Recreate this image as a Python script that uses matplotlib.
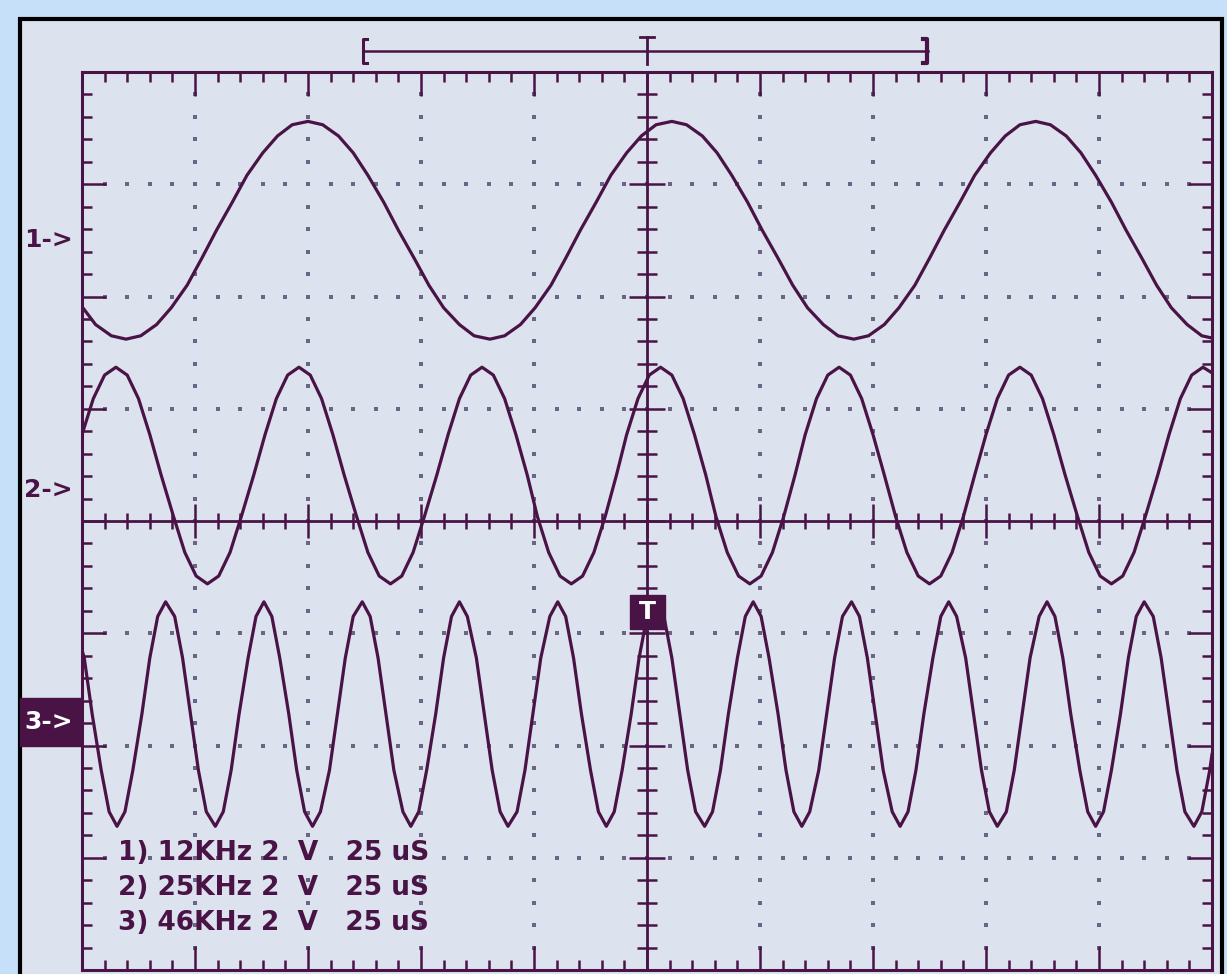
import numpy as np
import matplotlib
matplotlib.use("Agg")
import matplotlib.pyplot as plt
from matplotlib.patches import Rectangle
from matplotlib.ticker import MultipleLocator

# === Datos leidos de la pantalla (en divisiones) ===
# canal 1 (12 kHz)
t1_x = [0.00, 0.12, 0.26,
        0.39, 0.52, 0.66, 0.79, 0.93, 1.06, 1.19, 1.33, 1.46, 1.60, 1.73, 1.86,
        2.00, 2.13, 2.27, 2.40, 2.53, 2.67, 2.80, 2.94, 3.07, 3.20, 3.34, 3.47,
        3.61, 3.74, 3.88, 4.01, 4.15, 4.28, 4.41, 4.55, 4.68, 4.82, 4.95, 5.08,
        5.22, 5.35, 5.49, 5.62, 5.75, 5.89, 6.02, 6.16, 6.29, 6.42, 6.56, 6.69,
        6.83, 6.96, 7.10, 7.23, 7.37, 7.50, 7.63, 7.77, 7.90, 8.04, 8.17, 8.30,
        8.44, 8.57, 8.71, 8.84, 8.97, 9.11, 9.24, 9.38, 9.51, 9.64, 9.78, 9.91,
        10.00]
t1_y = [1.91, 1.75, 1.65,
        1.62, 1.65, 1.75, 1.90, 2.10, 2.34, 2.59, 2.84, 3.08, 3.28, 3.43, 3.53,
        3.56, 3.53, 3.43, 3.28, 3.08, 2.84, 2.59, 2.34, 2.10, 1.90, 1.75, 1.65,
        1.62, 1.65, 1.75, 1.90, 2.10, 2.34, 2.59, 2.84, 3.08, 3.28, 3.43, 3.53,
        3.56, 3.53, 3.43, 3.28, 3.08, 2.84, 2.59, 2.34, 2.10, 1.90, 1.75, 1.65,
        1.62, 1.65, 1.75, 1.90, 2.10, 2.34, 2.59, 2.84, 3.08, 3.28, 3.43, 3.53,
        3.56, 3.53, 3.43, 3.28, 3.08, 2.84, 2.59, 2.34, 2.10, 1.90, 1.75, 1.65,
        1.63]

# canal 2 (25 kHz)
t2_x = [0.00, 0.10, 0.20,
        0.30, 0.40, 0.50, 0.60, 0.70, 0.81, 0.91, 1.01, 1.11, 1.21, 1.31, 1.41, 1.52, 1.62, 1.72, 1.82,
        1.92, 2.02, 2.12, 2.22, 2.32, 2.43, 2.53, 2.63, 2.73, 2.83, 2.93, 3.03, 3.14, 3.24, 3.34, 3.44,
        3.54, 3.64, 3.74, 3.84, 3.94, 4.03, 4.13, 4.23, 4.33, 4.43, 4.53, 4.63, 4.73, 4.82, 4.92, 5.02,
        5.12, 5.22, 5.32, 5.42, 5.52, 5.61, 5.71, 5.81, 5.91, 6.01, 6.11, 6.21, 6.31, 6.40, 6.50, 6.60,
        6.70, 6.80, 6.90, 7.00, 7.10, 7.20, 7.30, 7.40, 7.50, 7.60, 7.70, 7.80, 7.90, 8.00, 8.10, 8.20,
        8.30, 8.40, 8.50, 8.60, 8.70, 8.81, 8.91, 9.01, 9.11, 9.21, 9.31, 9.41, 9.52, 9.62, 9.72, 9.82,
        9.92, 10.00]
t2_y = [0.77, 1.09, 1.30,
        1.37, 1.30, 1.09, 0.77, 0.41, 0.04, -0.28, -0.49, -0.56, -0.49, -0.28, 0.04, 0.41, 0.77, 1.09, 1.30,
        1.37, 1.30, 1.09, 0.77, 0.41, 0.04, -0.28, -0.49, -0.56, -0.49, -0.28, 0.04, 0.41, 0.77, 1.09, 1.30,
        1.37, 1.30, 1.09, 0.77, 0.41, 0.04, -0.28, -0.49, -0.56, -0.49, -0.28, 0.04, 0.41, 0.77, 1.09, 1.30,
        1.37, 1.30, 1.09, 0.77, 0.41, 0.04, -0.28, -0.49, -0.56, -0.49, -0.28, 0.04, 0.41, 0.77, 1.09, 1.30,
        1.37, 1.30, 1.09, 0.77, 0.41, 0.04, -0.28, -0.49, -0.56, -0.49, -0.28, 0.04, 0.41, 0.77, 1.09, 1.30,
        1.37, 1.30, 1.09, 0.77, 0.41, 0.04, -0.28, -0.49, -0.56, -0.49, -0.28, 0.04, 0.41, 0.77, 1.09, 1.30,
        1.37, 1.32]

# canal 3 (46 kHz)
t3_x = [0.00, 0.02, 0.09, 0.17, 0.24,
        0.31, 0.38, 0.45, 0.53, 0.60, 0.67, 0.74, 0.82, 0.89, 0.96, 1.03, 1.10,
        1.18, 1.25, 1.32, 1.39, 1.47, 1.54, 1.61, 1.68, 1.75, 1.83, 1.90, 1.97,
        2.04, 2.11, 2.19, 2.26, 2.33, 2.40, 2.48, 2.55, 2.62, 2.69, 2.76, 2.84,
        2.91, 2.98, 3.05, 3.13, 3.20, 3.27, 3.34, 3.41, 3.49, 3.56, 3.63, 3.70,
        3.77, 3.85, 3.92, 3.99, 4.06, 4.14, 4.21, 4.28, 4.35, 4.42, 4.50, 4.57,
        4.64, 4.71, 4.78, 4.86, 4.93, 5.00, 5.07, 5.15, 5.22, 5.29, 5.36, 5.43,
        5.51, 5.58, 5.65, 5.72, 5.80, 5.87, 5.94, 6.01, 6.08, 6.16, 6.23, 6.30,
        6.37, 6.44, 6.52, 6.59, 6.66, 6.73, 6.81, 6.88, 6.95, 7.02, 7.09, 7.17,
        7.24, 7.31, 7.38, 7.45, 7.53, 7.60, 7.67, 7.74, 7.82, 7.89, 7.96, 8.03,
        8.10, 8.18, 8.25, 8.32, 8.39, 8.47, 8.54, 8.61, 8.68, 8.75, 8.83, 8.90,
        8.97, 9.04, 9.11, 9.19, 9.26, 9.33, 9.40, 9.48, 9.55, 9.62, 9.69, 9.76,
        9.84, 9.91, 9.98, 10.00]
t3_y = [-1.15, -1.22, -1.72, -2.22, -2.59,
        -2.72, -2.59, -2.22, -1.72, -1.22, -0.85, -0.72, -0.85, -1.22, -1.72, -2.22, -2.59,
        -2.72, -2.59, -2.22, -1.72, -1.22, -0.85, -0.72, -0.85, -1.22, -1.72, -2.22, -2.59,
        -2.72, -2.59, -2.22, -1.72, -1.22, -0.85, -0.72, -0.85, -1.22, -1.72, -2.22, -2.59,
        -2.72, -2.59, -2.22, -1.72, -1.22, -0.85, -0.72, -0.85, -1.22, -1.72, -2.22, -2.59,
        -2.72, -2.59, -2.22, -1.72, -1.22, -0.85, -0.72, -0.85, -1.22, -1.72, -2.22, -2.59,
        -2.72, -2.59, -2.22, -1.72, -1.22, -0.85, -0.72, -0.85, -1.22, -1.72, -2.22, -2.59,
        -2.72, -2.59, -2.22, -1.72, -1.22, -0.85, -0.72, -0.85, -1.22, -1.72, -2.22, -2.59,
        -2.72, -2.59, -2.22, -1.72, -1.22, -0.85, -0.72, -0.85, -1.22, -1.72, -2.22, -2.59,
        -2.72, -2.59, -2.22, -1.72, -1.22, -0.85, -0.72, -0.85, -1.22, -1.72, -2.22, -2.59,
        -2.72, -2.59, -2.22, -1.72, -1.22, -0.85, -0.72, -0.85, -1.22, -1.72, -2.22, -2.59,
        -2.72, -2.59, -2.22, -1.72, -1.22, -0.85, -0.72, -0.85, -1.22, -1.72, -2.22, -2.59,
        -2.72, -2.59, -2.22, -2.08]

canales = ["1->", "2->", "3->"]
niveles = [2.50, 0.28, -1.79]
leyenda = ["1) 12KHz 2  V   25 uS",
           "2) 25KHz 2  V   25 uS",
           "3) 46KHz 2  V   25 uS"]

# === Colores ===
FONDO = '#c6e0fa'
PANEL = '#dce3ef'
TRAZO = '#4a1346'
PUNTO = '#6a6485'

W, H = 1227, 974

def px(x, y):
    return x / W, 1 - y / H

fig = plt.figure(figsize=(W / 100, H / 100), dpi=100)
fig.patch.set_facecolor(FONDO)

# panel con borde negro
fig.add_artist(Rectangle(px(20, 1000), 1202 / W, (1000 - 19) / H,
                         transform=fig.transFigure, facecolor=PANEL,
                         edgecolor='black', lw=3, zorder=0))

ax = fig.add_axes([82 / W, 1 - 970 / H, (1212 - 82) / W, (970 - 72) / H])
ax.set_facecolor('none')
ax.set_xlim(0, 10)
ax.set_ylim(-4, 4)
for s in ax.spines.values():
    s.set_color(TRAZO)
    s.set_linewidth(2.2)
ax.xaxis.set_major_locator(MultipleLocator(1))
ax.xaxis.set_minor_locator(MultipleLocator(0.2))
ax.yaxis.set_major_locator(MultipleLocator(1))
ax.yaxis.set_minor_locator(MultipleLocator(0.2))
ax.tick_params(which='both', direction='in', top=True, right=True,
               labelbottom=False, labelleft=False, color=TRAZO, width=1.8)
ax.tick_params(which='major', length=17)
ax.tick_params(which='minor', length=7)

# === reticula punteada ===
px_x = np.arange(1, 50) * 0.2
px_y = np.arange(1, 40) * 0.2 - 4
for i in range(1, 10):
    if i != 5:
        ax.scatter(np.full_like(px_y, i), px_y, s=5, marker='s', color=PUNTO,
                   linewidths=0, zorder=1)
for j in range(-3, 4):
    if j != 0:
        ax.scatter(px_x, np.full_like(px_x, j), s=5, marker='s', color=PUNTO,
                   linewidths=0, zorder=1)

# === ejes centrales con marcas ===
ax.axhline(0, color=TRAZO, lw=2.0, zorder=2)
ax.axvline(5, color=TRAZO, lw=2.0, zorder=2)
mx = px_x[np.abs(px_x - np.round(px_x)) > 0.01]
ax.plot(mx, np.zeros_like(mx), ls='none', marker='|', ms=12, mew=1.8, color=TRAZO, zorder=2)
ax.plot(np.arange(1, 10), np.zeros(9), ls='none', marker='|', ms=25, mew=1.8, color=TRAZO, zorder=2)
my = px_y[np.abs(px_y - np.round(px_y)) > 0.01]
ax.plot(np.full_like(my, 5), my, ls='none', marker='_', ms=14, mew=1.8, color=TRAZO, zorder=2)
ax.plot(np.full(7, 5), np.arange(-3, 4), ls='none', marker='_', ms=26, mew=1.8, color=TRAZO, zorder=2)

# === trazas ===
for xs, ys in [(t1_x, t1_y), (t2_x, t2_y), (t3_x, t3_y)]:
    ax.plot(xs, ys, color=TRAZO, lw=2.3, solid_joinstyle='round', zorder=3)

# === barra superior con marcador de disparo ===
yb = 4.19
ax.plot([2.49, 7.49], [yb, yb], color=TRAZO, lw=1.8, clip_on=False)
ax.plot([2.52, 2.49, 2.49, 2.52], [4.29, 4.29, 4.08, 4.08], color=TRAZO, lw=2.2, clip_on=False)
ax.plot([7.44, 7.48, 7.48, 7.44], [4.29, 4.29, 4.08, 4.08], color=TRAZO, lw=3.0, clip_on=False)
ax.plot([5, 5], [4.07, 4.31], color=TRAZO, lw=2.0, clip_on=False)
ax.plot([4.94, 5.06], [4.31, 4.31], color=TRAZO, lw=2.0, clip_on=False)

# === etiquetas de canal ===
for k, (txt, nv) in enumerate(zip(canales, niveles)):
    yp = 521 - nv * 112.3
    if k == 2:
        fig.add_artist(Rectangle(px(20, yp + 24), 62 / W, 48 / H,
                                 transform=fig.transFigure, color=TRAZO, zorder=5))
        col = 'white'
    else:
        col = TRAZO
    fig.text(*px(24, yp), txt, color=col, fontsize=18, fontweight='bold',
             va='center', ha='left', family='DejaVu Sans', zorder=6)

# === marcador T ===
fig.add_artist(Rectangle(px(630, 629), 35 / W, 34 / H, transform=fig.transFigure,
                         color=TRAZO, zorder=5))
fig.text(*px(647.5, 612), "T", color='white', fontsize=18, fontweight='bold',
         ha='center', va='center', family='DejaVu Sans', zorder=6)

# === leyenda ===
for k, linea in enumerate(leyenda):
    ax.text(0.32, -2.96 - 0.31 * k, linea, color=TRAZO, fontsize=19, fontweight='bold',
            family='DejaVu Sans', va='center', ha='left', zorder=4)

fig.savefig("out.png", dpi=100, facecolor=FONDO)
